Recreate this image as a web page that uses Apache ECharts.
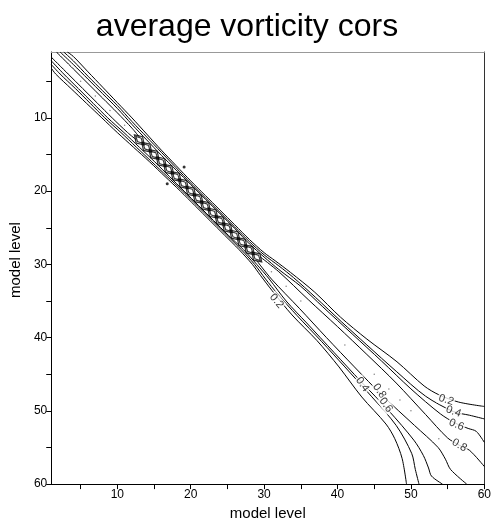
<!DOCTYPE html>
<html>
<head>
<meta charset="utf-8">
<script src="https://cdn.jsdelivr.net/npm/echarts@6/dist/echarts.min.js"></script>
<style>
  html, body { margin: 0; padding: 0; background: #fff; }
  #chart { width: 494px; height: 526px; }
</style>
</head>
<body>
<div id="chart"></div>
<script>
// Correlation contours of vorticity between model levels.
// The matrix is symmetric, so each contour is stored once (upper side, x > y)
// and drawn again transposed for the lower side.

const tickValues = [5, 10, 15, 20, 25, 30, 35, 40, 45, 50, 55, 60];
const labelValues = [10, 20, 30, 40, 50, 60];

const contour02 = [[3.2,1],[4,1.6],[6,3.7],[8,5.8],[10,7.9],[12,10],[14,12.2],[16,14.4],[18,16.5],[20,18.6],[22,20.6],[24,22.6],[26,24.6],[28,26.6],[30,28.4],[31.5,29.5],[33.6,31.1],[36.9,33.8],[40.4,37.2],[44,40.2],[48.1,43.3],[51.8,46.6],[53.8,47.8],[56.5,48.8],[60,49.4]];
const contour04 = [[2.7,1],[4,2.2],[6,4.3],[8,6.3],[10,8.3],[12,10.5],[14,12.6],[16,14.7],[18,16.8],[20,18.9],[22,20.9],[24,22.9],[26,24.9],[28,26.9],[30,28.7],[32,30.2],[34,31.8],[37,34.5],[40.5,37.8],[44,41],[48,44.6],[52,48],[55.8,50.1],[58,50.6],[60,51.1]];
const contour06 = [[2.2,1],[4,2.7],[6,4.7],[8,6.7],[10,8.7],[12,10.9],[14,13],[16,15.1],[18,17.1],[20,19.1],[22,21.1],[24,23.1],[26,25.1],[28,27.2],[30,29],[32,30.7],[35,33],[38,35.8],[42,39.5],[46,43.2],[50,47],[54,50.4],[56.1,51.7],[57.8,52.4],[58.9,52.8],[60,54.3]];
const contour08a = [[1.7,1],[4,3.3],[6,5.3],[8,7.3],[10,9.3],[12,11.4],[13,12.6]];
const contour08b = [[29.5,29],[32,31],[36,34.8],[40,38.5],[44,42.3],[48,46.2],[52,50.5],[55,53.7],[56.6,54.7],[58,55.4],[60,57.6]];

// diagonal chain of small closed loops around each level
const chainLevels = [13,14,15,16,17,18,19,20,21,22,23,24,25,26,27,28,29];
// small isolated islands
const islands = [[19.1,16.7],[16.8,19.0]];
const diagonalSpecks = [[5,5],[7,7],[9,9],[11,11],[31,31],[33,33],[35,35],[41,41],[45,45],[47,47],[48.5,48.5],[50,50],[53.8,53.8]];

// contour labels: [x, y, text, rotation]
const contourLabels = [
  [54.8, 48.5, '0.2', -18],
  [55.8, 50.1, '0.4', -20],
  [56.2, 51.9, '0.6', -22],
  [56.6, 54.7, '0.8', -30],
  [31.7, 35.0, '0.2', -50],
  [43.4, 46.4, '0.4', -55],
  [45.7, 47.3, '0.8', -55],
  [46.6, 49.2, '0.6', -55]
];

const transpose = pts => pts.map(p => [p[1], p[0]]);

const lineStyle = { color: '#000', width: 1 };
const contourSet = [contour02, contour04, contour06, contour08a, contour08b];
const series = [];
contourSet.forEach(c => {
  [c, transpose(c)].forEach(pts => {
    series.push({
      type: 'line', data: pts, showSymbol: false, smooth: 0.3,
      lineStyle: lineStyle, silent: true, z: 2
    });
  });
});

const diag = chainLevels.map(v => [v, v]);
series.push({
  type: 'scatter', data: diag, symbol: 'diamond', symbolSize: [14, 9], symbolRotate: -45,
  itemStyle: { color: 'rgba(0,0,0,0)', borderColor: '#000', borderWidth: 1.3 }, z: 3
});
series.push({
  type: 'scatter', data: diag, symbol: 'diamond', symbolSize: [10, 5], symbolRotate: -45,
  itemStyle: { color: 'rgba(0,0,0,0)', borderColor: '#000', borderWidth: 1.2 }, z: 3
});
series.push({
  type: 'scatter', data: islands, symbol: 'circle', symbolSize: 3,
  itemStyle: { color: '#000' }, z: 3
});
series.push({
  type: 'scatter', data: diagonalSpecks, symbol: 'circle', symbolSize: 1.5,
  itemStyle: { color: '#666' }, z: 3
});
series.push({
  type: 'scatter',
  data: contourLabels.map(l => ({ value: [l[0], l[1]], name: l[2] })),
  symbolSize: 0, z: 5,
  label: {
    show: true, position: 'inside',
    formatter: p => p.name,
    fontSize: 11, fontFamily: 'Liberation Sans', color: '#000',
    backgroundColor: '#fff', padding: [0, 1]
  },
  labelLayout: p => ({ rotate: contourLabels[p.dataIndex][3] })
});

const axisText = { fontSize: 12, fontFamily: 'Liberation Sans', color: '#000' };

const option = {
  animation: false,
  backgroundColor: '#fff',
  title: {
    text: 'average vorticity cors', left: 'center', top: 6,
    textStyle: { fontSize: 32, fontWeight: 'normal', fontFamily: 'Liberation Sans', color: '#000' }
  },
  grid: { left: 51, right: 6, top: 52, bottom: 40 },
  xAxis: [{
    type: 'value', min: 1, max: 60, position: 'bottom',
    name: 'model level', nameLocation: 'middle', nameGap: 21,
    nameTextStyle: { fontSize: 15, fontFamily: 'Liberation Sans', color: '#000' },
    axisLine: { lineStyle: { color: '#000', width: 1 } },
    axisTick: { show: true, length: 5, inside: false, customValues: tickValues, lineStyle: { color: '#000' } },
    axisLabel: Object.assign({ customValues: labelValues, margin: 5 }, axisText),
    splitLine: { show: false }
  }, {
    type: 'value', min: 1, max: 60, position: 'top',
    axisLine: { show: true, onZero: false, lineStyle: { color: '#999', width: 1 } },
    axisTick: { show: false }, axisLabel: { show: false }, splitLine: { show: false }
  }],
  yAxis: [{
    type: 'value', min: 1, max: 60, inverse: true, position: 'left',
    name: 'model level', nameLocation: 'middle', nameGap: 26, nameRotate: 90,
    nameTextStyle: { fontSize: 15, fontFamily: 'Liberation Sans', color: '#000', padding: [0, 0, 0, 16] },
    axisLine: { lineStyle: { color: '#000', width: 1 } },
    axisTick: { show: true, length: 5, inside: false, customValues: tickValues, lineStyle: { color: '#000' } },
    axisLabel: Object.assign({ customValues: labelValues, margin: 4 }, axisText),
    splitLine: { show: false }
  }, {
    type: 'value', min: 1, max: 60, inverse: true, position: 'right',
    axisLine: { show: true, onZero: false, lineStyle: { color: '#333', width: 1 } },
    axisTick: { show: false }, axisLabel: { show: false }, splitLine: { show: false }
  }],
  series: series
};

const chart = echarts.init(document.getElementById('chart'), null, { renderer: 'canvas' });
chart.setOption(option);
</script>
</body>
</html>
